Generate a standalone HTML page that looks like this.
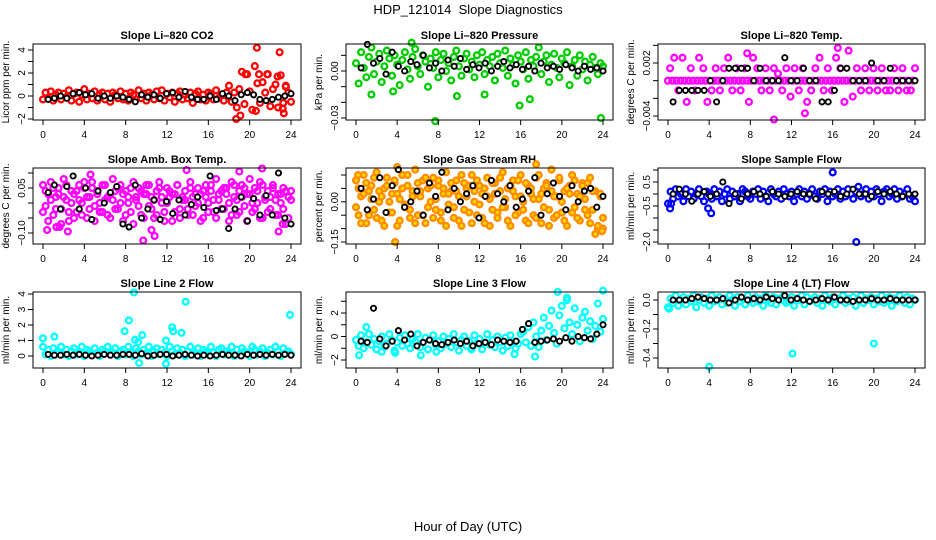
<!DOCTYPE html>
<html><head><meta charset="utf-8"><style>
body{margin:0;background:#fff}
svg{display:block;font-family:"Liberation Sans",Arial,sans-serif}
</style></head><body>
<svg id="chart" width="936" height="540" viewBox="0 0 936 540">
<text x="468" y="14" text-anchor="middle" font-size="13">HDP_121014&#160; Slope Diagnostics</text>
<text x="468" y="531" text-anchor="middle" font-size="13">Hour of Day (UTC)</text>
</svg>
<script>
const xTicks=[0,4,8,12,16,20,24];
const co2Color=[-0.3,0.3,-0.2,0.4,-0.4,0.1,0.3,-0.3,0.2,-0.1,0.5,-0.4,0.2,0.3,-0.5,0.1,0.6,-0.3,0.2,-0.2,0.4,-0.4,0.1,0.3,-0.3,0.2,-0.5,0.3,0.1,-0.2,0.4,-0.3,0.2,-0.4,0.3,0.1,-0.3,0.5,-0.2,0.2,-0.4,0.3,0.1,-0.3,0.4,-0.2,0.5,-0.4,0.2,-0.1,0.3,-0.5,0.2,0.4,-0.3,0.1,-0.2,0.3,-0.6,0.2,0.4,-0.3,0.1,-0.4,0.3,0.2,-0.3,0.5,-0.2,0.1,-0.4,0.3,0.9,-0.5,0.3,-1.0,0.6,2.1,-0.7,1.9,0.4,-1.2,2.6,1.1,-0.6,1.2,0.3,1.9,-0.9,0.6,1.0,-1.0,1.8,-0.6,0.8,0.3,-0.5];
const co2OutX=[20.7,22.9,18.7,19.1,20.6,20.9,23.3,23.2,19.6,21.7,22.7,23.5];
const co2OutY=[4.2,3.8,-2.0,-1.7,-1.3,1.9,-1.5,-1.1,1.9,1.9,1.7,0.9];
const co2Black=[-0.3,-0.2,0,-0.2,0.2,0.3,0.1,0.2,-0.2,0,-0.2,0,-0.1,-0.3,-0.5,0.1,-0.1,0.1,-0.2,0.2,0.3,-0.1,0.4,-0.1,-0.3,-0.3,0,-0.3,0.2,0,-0.4,0.1,0.3,0.1,-0.3,-0.4,-0.3,-0.1,0,0.2];
const presColor=[0.005,-0.008,0.012,0.002,-0.004,0.009,0.015,-0.002,0.006,0.011,-0.007,0.003,0.013,0.008,-0.003,0.010,0.004,-0.009,0.007,0.012,0.001,-0.005,0.009,0.014,0.003,-0.002,0.010,0.006,-0.010,0.008,0.002,0.012,-0.004,0.007,0.011,0.000,0.005,-0.006,0.009,0.013,0.003,-0.003,0.008,0.011,0.001,0.006,-0.004,0.010,0.004,0.012,-0.002,0.007,0.003,0.009,-0.006,0.011,0.005,0.002,0.013,-0.003,0.008,0.004,-0.008,0.010,0.006,0.001,0.012,-0.005,0.007,0.003,0.009,0.015,-0.002,0.006,0.010,-0.007,0.004,0.011,0.002,-0.004,0.008,0.005,0.012,-0.009,0.003,0.007,-0.003,0.010,0.001,0.006,-0.006,0.004,0.009,0.002,-0.002,0.005,0.003];
const presOutX=[1.5,7.7,9.8,12.5,15.9,16.9,23.8,5.4,3.6];
const presOutY=[-0.015,-0.032,-0.016,-0.015,-0.022,-0.018,-0.030,0.018,-0.013];
const presBlack=[0.002,0.017,0.005,0.008,-0.002,0.012,0.003,0.0,0.006,0.004,0.010,0.002,0.005,0.0,0.007,0.003,0.008,0.001,0.004,0.002,0.005,0.0,0.003,0.006,0.002,0.004,0.001,0.003,0.0,0.005,0.002,0.003,0.001,0.004,0.002,0.0,0.003,0.001,0.002,0.0];
const tempColor=[0,0.0014,0,0.0026,0,-0.0011,0,0.0026,0,-0.0024,0,0.0014,0,-0.0011,0,0.0026,0,0.0014,0,-0.0024,0,-0.0011,0,0.0014,0,-0.0011,0,0.0014,0,0.0026,0,-0.0011,0,0.0014,0,-0.0011,0,0.0014,0,-0.0024,0,0.0026,0,0.0014,0,-0.0011,0,0.0014,0,-0.0011,0,0.0014,0,0.0008,0,-0.0011,0,0.0014,0,-0.0018,0,0.0014,0,-0.0011,0,0.0014,0,-0.0024,0,-0.0011,0,0.0014,0,0.0026,0,-0.0011,0,0.0014,0,-0.0011,0,0.0026,0,0.0014,0,-0.0024,0,0.0034,0,-0.0018,0,0.0014,0,-0.0011,0,0.0014,0,-0.0011,0,0.0014,0,-0.0011,0,0.0014,0,-0.0011,0,-0.0011,0,0.0014,0,-0.0011,0,0.0014,0,-0.0011,0,-0.0011,0,0.0014];
const tempOutX=[10.3,13.3,16.5,7.7];
const tempOutY=[-0.0044,-0.0037,0.0037,0.0031];
const tempBlack=[-0.0024,-0.0011,-0.0011,-0.0011,-0.0011,-0.0011,0,-0.0024,0,0.0014,0.0014,0.0014,0.0014,0,0.0014,0,0,0,0.0026,0,0,0.0014,0,0,-0.0024,-0.0024,-0.0011,0.0014,0.0014,0,0,0,0.0020,0,0,0.0014,0,0,0,0];
const ambColorA=[0.06,-0.01,0.03,0.07,-0.04,0.02,0.05,-0.02,0.08,0.01,-0.06,0.04,0.03,-0.03,0.06,0.00,0.05,-0.05,0.02,0.07,-0.01,0.04,-0.03,0.06,0.01,-0.04,0.03,0.08,-0.02,0.05,0.00,-0.06,0.04,0.02,-0.03,0.07,0.01,0.05,-0.04,0.03,0.06,-0.01,0.02,-0.05,0.04,0.07,0.00,-0.03,0.05,0.02,-0.06,0.03,0.06,-0.02,0.01,0.04,-0.04,0.07,0.02,-0.01,0.05,0.03,-0.05,0.06,0.00,0.04,-0.03,0.08,0.01,-0.02,0.05,0.03,-0.06,0.07,0.02,-0.04,0.04,0.06,-0.01,0.03,0.08,-0.03,0.05,0.00,0.07,-0.05,0.02,0.04,-0.02,0.06,0.01,-0.04,0.03,0.05,-0.07,0.02,0.04];
const ambColorB=[-0.03,0.04,-0.06,0.01,0.05,-0.02,0.03,-0.07,0.02,0.06,-0.03,0.00,-0.05,0.04,0.01,-0.04,0.07,0.02,-0.02,0.05,-0.06,0.03,0.00,-0.03,0.06,0.02,-0.05,0.01,0.04,-0.02,0.06,0.03,-0.04,0.00,0.05,-0.07,0.02,-0.01,0.04,-0.05,0.03,0.06,-0.02,0.01,-0.04,0.05,0.02,-0.06,0.00,0.04,0.03,-0.03,0.06,-0.05,0.02,0.01,-0.02,0.05,-0.04,0.03,0.00,-0.06,0.04,0.02,-0.03,0.06,0.01,-0.05,0.03,0.04,-0.02,0.05,0.00,-0.04,0.06,0.01,-0.03,0.02,0.05,-0.06,0.03,0.00,-0.02,0.04,-0.05,0.06,0.01,-0.03,0.02,0.05,-0.04,0.03,0.00,-0.02,0.04,-0.05,0.01];
const ambOutX=[0.4,1.3,1.6,2.4,4.6,9.7,10.5,10.8,13.9,19.0,21.2,22.8,23.2];
const ambOutY=[-0.09,-0.08,-0.08,-0.095,0.095,-0.125,-0.09,-0.11,0.11,0.105,0.115,-0.095,-0.07];
const ambBlack=[0.035,0.06,-0.02,0.055,0.09,-0.02,0.05,-0.055,0.04,0,0.035,0.055,-0.07,-0.08,0.06,-0.05,-0.02,0.01,-0.055,0.005,-0.035,0.01,-0.04,-0.005,0.02,-0.015,0.09,-0.025,-0.02,-0.085,-0.02,0.02,-0.06,0.015,-0.04,0.025,-0.04,0.1,-0.05,-0.07];
const rhColorA=[0.08,-0.05,0.02,0.10,-0.08,0.04,0.06,-0.03,0.11,0.00,-0.07,0.05,0.09,-0.04,0.03,0.07,-0.09,0.01,0.10,-0.02,0.06,-0.06,0.04,0.12,-0.05,0.02,0.08,-0.08,0.05,0.00,0.09,-0.03,0.06,-0.07,0.03,0.11,-0.01,0.04,-0.06,0.08,0.02,-0.09,0.07,0.05,-0.04,0.10,0.00,-0.05,0.06,0.03,-0.08,0.09,0.01,-0.03,0.07,-0.06,0.04,0.11,-0.02,0.05,-0.09,0.08,0.02,-0.04,0.10,0.00,-0.07,0.06,0.03,-0.05,0.09,0.01,-0.08,0.05,0.07,-0.03,0.12,-0.06,0.02,0.08,-0.04,0.04,-0.09,0.06,0.10,-0.02,0.03,-0.07,0.07,0.01,-0.05,0.09,-0.03,0.04,-0.10,0.02,-0.06];
const rhColorB=[-0.02,0.05,-0.08,0.03,0.07,-0.05,0.01,0.09,-0.06,0.04,0.02,-0.09,0.06,0.00,-0.04,0.08,0.03,-0.07,0.05,-0.01,0.10,-0.03,0.02,-0.08,0.07,0.04,-0.05,0.09,-0.02,0.06,-0.06,0.01,0.08,-0.04,0.05,-0.09,0.03,0.07,-0.02,0.04,-0.07,0.10,-0.03,0.02,0.06,-0.08,0.04,0.08,-0.01,-0.06,0.05,0.02,-0.09,0.07,0.03,-0.04,0.09,-0.02,0.01,-0.07,0.06,0.04,-0.05,0.08,0.02,-0.03,0.07,-0.08,0.05,0.01,-0.06,0.10,0.03,-0.02,0.06,-0.09,0.04,0.02,-0.05,0.09,0.00,-0.07,0.05,0.03,-0.04,0.08,-0.06,0.02,0.06,-0.03,0.07,-0.08,0.04,-0.12,-0.09,0.03,-0.10];
const rhOutX=[3.8,4.0,17.5,23.9,0.2];
const rhOutY=[-0.15,0.13,0.14,-0.11,0.10];
const rhBlack=[0.05,-0.03,0.01,0.09,-0.04,0.06,0.12,-0.02,0.0,0.04,-0.05,0.07,0.02,0.11,-0.03,0.05,0.0,0.03,0.06,-0.06,0.02,0.08,0.03,0.0,0.06,-0.02,0.01,0.04,0.09,-0.05,0.03,0.07,0.02,-0.03,0.06,0.0,0.04,0.05,-0.02,0.02];
const sampColor=[-0.4,0.1,-0.2,0.2,-0.1,0.0,-0.3,0.2,-0.1,0.1,-0.2,0.0,0.2,-0.1,-0.3,0.1,0.0,-0.2,0.2,-0.1,0.1,-0.3,0.0,0.2,-0.2,0.1,-0.1,0.0,-0.3,0.2,0.1,-0.1,-0.2,0.1,0.0,0.2,-0.2,0.1,-0.1,-0.3,0.2,0.0,-0.1,0.1,-0.2,0.2,0.0,-0.1,0.1,-0.3,0.0,0.2,-0.1,0.1,-0.2,0.0,0.2,-0.1,-0.2,0.1,0.0,0.2,-0.3,0.1,-0.1,0.0,0.2,-0.2,0.1,-0.1,0.2,0.0,-0.2,0.1,0.3,-0.1,0.0,0.2,-0.2,0.1,-0.1,0.2,0.0,-0.3,0.1,0.2,-0.1,0.0,0.2,-0.2,0.1,-0.1,0.0,0.2,-0.2,-0.1,-0.3];
const sampOutX=[0.2,0.3,16.0,18.3,3.9,4.2];
const sampOutY=[-0.6,-0.4,0.9,-2.0,-0.6,-0.8];
const sampBlack=[0.0,0.2,0.0,-0.3,0.0,0.1,-0.1,0.0,0.5,-0.4,0.0,-0.2,0.0,0.1,0.0,-0.1,0.1,0.0,-0.1,0.0,0.1,0.0,0.0,-0.2,0.1,0.0,0.1,-0.1,0.0,0.2,0.0,0.0,-0.1,0.1,0.0,0.1,0.0,-0.1,0.0,0.0];
const l2Color=[0.6,0.1,0.4,0.0,0.5,0.2,0.3,0.6,0.1,0.4,0.0,0.3,0.5,0.1,0.2,0.6,0.0,0.4,0.3,0.1,0.5,0.2,0.0,0.4,0.3,0.6,0.1,0.2,0.5,0.0,0.3,0.4,0.1,0.6,0.2,0.0,0.5,0.3,0.1,0.4,0.2,0.6,0.0,0.3,0.5,0.1,0.4,0.2,0.0,0.6,0.3,0.1,0.5,0.2,0.4,0.0,0.3,0.6,0.1,0.2,0.5,0.0,0.4,0.3,0.1,0.6,0.2,0.0,0.4,0.5,0.1,0.3,0.2,0.6,0.0,0.4,0.1,0.5,0.3,0.2,0.0,0.6,0.4,0.1,0.3,0.5,0.0,0.2,0.4,0.1,0.6,0.3,0.0,0.5,0.2,0.3,0.1];
const l2OutX=[0,1.1,7.9,8.3,8.8,8.9,9.2,9.6,11.9,12.5,12.6,13.4,13.8,23.9,9.3,11.9];
const l2OutY=[1.15,1.25,1.6,2.3,4.1,1.05,0.9,1.35,1.0,1.85,1.6,1.5,3.5,2.65,-0.45,-0.5];
const l2Black=[0.1,0.05,0.05,0.1,0.05,0.1,0.05,0.0,0.05,0.1,0.05,0.05,0.1,0.1,0.05,0.15,0.0,0.05,0.1,0.1,0.0,0.05,0.1,0.05,0.0,0.05,0.0,0.05,0.1,0.05,0.05,0.0,0.1,0.05,0.1,0.05,0.1,0.05,0.1,0.05];
const l3Color=[-0.3,-0.8,0.1,-1.0,-0.5,0.2,-0.7,-0.2,-1.1,-0.4,0.0,-0.9,-0.6,0.2,-0.3,-1.2,-0.5,-0.1,-0.8,0.1,-0.6,-1.0,-0.2,-0.4,0.2,-0.9,-0.5,-0.1,-1.1,-0.3,0.1,-0.7,-0.4,-1.0,0.0,-0.6,-0.2,-0.9,0.2,-0.5,-1.2,-0.3,0.0,-0.8,-0.4,-1.0,0.1,-0.6,-0.2,-1.1,-0.5,0.2,-0.7,-0.3,-0.9,0.0,-0.5,-1.2,-0.1,-0.8,0.1,-0.4,-1.0,-0.6,0.2,0.4,-0.5,0.8,-0.8,1.2,0.0,-0.9,0.5,1.6,-0.3,0.9,2.2,0.3,-0.6,1.8,2.6,0.7,3.1,1.2,0.2,2.4,1.0,-0.4,1.6,2.1,0.5,1.3,-0.2,0.9,2.8,0.4,1.5];
const l3OutX=[0.3,0.6,1.0,2.5,3.8,6.3,7.8,11.2,15.4,17.4,19.6,20.5,24.0];
const l3OutY=[-1.6,-0.5,0.8,-1.3,-1.4,-1.6,-1.3,-1.1,-1.5,-1.7,3.8,3.3,3.9];
const l3Black=[-0.4,-0.5,2.4,-0.2,-0.8,-0.4,0.5,-0.3,0.2,-0.8,-0.5,-0.3,-0.6,-0.7,-0.5,-0.3,-0.6,-0.4,-0.8,-0.6,-0.5,-0.7,-0.3,-0.4,-0.5,-0.4,0.6,1.1,-0.5,-0.4,-0.3,-0.2,-0.4,-0.1,-0.4,0.0,-0.1,-0.2,0.2,1.0];
const l4Color=[-0.05,0.01,-0.02,0.03,-0.04,0.0,0.02,-0.03,0.01,-0.01,0.03,-0.05,0.0,0.02,-0.02,0.01,-0.04,0.03,-0.01,0.0,0.02,-0.03,0.01,-0.02,0.03,0.0,-0.04,0.02,-0.01,0.01,-0.03,0.03,0.0,-0.02,0.02,-0.01,0.01,-0.04,0.03,0.0,-0.02,0.02,-0.03,0.01,0.0,0.03,-0.02,-0.01,0.02,-0.04,0.01,0.0,0.03,-0.03,0.02,-0.01,0.0,0.02,-0.02,0.01,-0.04,0.03,0.0,-0.01,0.02,-0.03,0.01,0.0,0.03,-0.02,0.01,-0.01,0.02,-0.04,0.0,0.03,-0.02,0.01,0.0,0.02,-0.03,0.01,-0.01,0.03,-0.02,0.0,0.02,-0.04,0.01,-0.01,0.03,0.0,-0.02,0.02,-0.03,0.01,0.0];
const l4OutX=[4.0,12.1,20.0,0.1];
const l4OutY=[-0.46,-0.37,-0.30,-0.06];
const l4Black=[0.0,0.0,0.0,0.01,0.02,0.01,0.0,0.0,0.01,-0.02,0.0,0.02,0.0,0.01,0.0,0.02,0.01,0.0,0.03,0.0,0.01,0.0,-0.01,0.0,0.01,0.0,0.02,0.0,0.0,-0.01,0.0,0.0,0.01,0.0,0.0,0.01,0.0,0.0,0.0,0.0];

const NS='http://www.w3.org/2000/svg';
const svg=document.getElementById('chart');
function mk(tag,attrs,parent){const e=document.createElementNS(NS,tag);for(const k in attrs)e.setAttribute(k,attrs[k]);(parent||svg).appendChild(e);return e;}
const col0=[43,356,668],col24=[291,603,915],rowTop=[44,168,292],rowBot=[120,244,368];

function panel(slug,ci,ri,title,ylab,ref,ticks,labels,colorSets,outX,outY,black,stroke,fill){
  const g=mk('g',{});
  
  
  const x0=col0[ci],x1=col24[ci],top=rowTop[ri],bot=rowBot[ri];
  const xs=h=>x0+(x1-x0)*h/24;
  const ys=v=>ref[1]+(v-ref[0])*(ref[3]-ref[1])/(ref[2]-ref[0]);
  const L=x0-10,R=x1+10;
  const t=mk('text',{x:(L+R)/2,y:top-5,'text-anchor':'middle','font-size':11,'font-weight':'bold'},g);t.textContent=title;
  
  
  const yl=mk('text',{x:0,y:0,'text-anchor':'middle','font-size':10,transform:`translate(${L-24},${(top+bot)/2}) rotate(-90)`},g);yl.textContent=ylab;
  
  
  const clip=mk('g',{},g);
  const drawPt=(h,v,s,f,r,w)=>{const c=mk('circle',{cx:xs(h).toFixed(1),cy:ys(v).toFixed(1),r:r,fill:f,stroke:s,'stroke-width':w},clip);
    
    };
  colorSets.forEach(arr=>arr.forEach((v,i)=>drawPt(i*24/(arr.length-1),v,stroke,fill,2.9,2.3)));
  outX.forEach((h,i)=>drawPt(h,outY[i],stroke,fill,2.9,2.3));
  black.forEach((v,i)=>drawPt(0.5+i*23.5/(black.length-1),v,'#000','#fff',2.6,1.9));
  const box=mk('rect',{x:L,y:top,width:R-L,height:bot-top,fill:'none',stroke:'#000','stroke-width':1},g);
  
  
  xTicks.forEach(h=>{const X=xs(h);mk('line',{x1:X,x2:X,y1:bot,y2:bot+5,stroke:'#000'},g);
    const tl=mk('text',{x:X,y:bot+18,'text-anchor':'middle','font-size':10},g);tl.textContent=h;
    
    });
  ticks.forEach((v,i)=>{const Y=ys(v);mk('line',{x1:L-5,x2:L,y1:Y,y2:Y,stroke:'#000'},g);
    if(labels[i]){const tl=mk('text',{x:0,y:0,'text-anchor':'middle','font-size':10,transform:`translate(${L-8},${Y}) rotate(-90)`},g);tl.textContent=labels[i];
      
      }});
}
panel('co2',0,0,'Slope Li\u2013820 CO2','Licor ppm per min.',[4,50,-2,119],[-2,-1,0,1,2,3,4],['\u22122','','0','','2','','4'],[co2Color],co2OutX,co2OutY,co2Black,'#ff0000','none');
panel('pressure',1,0,'Slope Li\u2013820 Pressure','kPa per min.',[0,71,-0.03,118],[0.01,0,-0.01,-0.02,-0.03],['','0.00','','','\u22120.03'],[presColor],presOutX,presOutY,presBlack,'#00cc00','none');
panel('licor-temp',2,0,'Slope Li\u2013820 Temp.','degrees C per min.',[0.002,63,-0.004,116],[0.004,0.002,0,-0.002,-0.004],['','0.002','','','\u22120.004'],[tempColor],tempOutX,tempOutY,tempBlack,'#ff00ff','none');
panel('amb-temp',0,1,'Slope Amb. Box Temp.','degrees C per min.',[0.05,188,-0.10,233],[0.1,0.05,0,-0.05,-0.1],['','0.05','','','\u22120.10'],[ambColorA,ambColorB],ambOutX,ambOutY,ambBlack,'#ff00ff','none');
panel('rh',1,1,'Slope Gas Stream RH','percent per min.',[0.1,175,-0.15,242],[0.1,0.05,0,-0.05,-0.1,-0.15],['','','0.00','','','\u22120.15'],[rhColorA,rhColorB],rhOutX,rhOutY,rhBlack,'#ff8c00','#ffd700');
panel('sample-flow',2,1,'Slope Sample Flow','ml/min per min.',[0.5,182,-2,242],[1,0.5,0,-0.5,-1,-1.5,-2],['','0.5','','\u22120.5','','','\u22122.0'],[sampColor],sampOutX,sampOutY,sampBlack,'#0000ff','none');
panel('line2',0,2,'Slope Line 2 Flow','ml/min per min.',[4,294,0,356],[4,3,2,1,0],['4','3','2','1','0'],[l2Color],l2OutX,l2OutY,l2Black,'#00ffff','none');
panel('line3',1,2,'Slope Line 3 Flow','ml/min per min.',[2,313,-2,360],[3,2,1,0,-1,-2],['','2','','0','','\u22122'],[l3Color],l3OutX,l3OutY,l3Black,'#00ffff','none');
panel('line4',2,2,'Slope Line 4 (LT) Flow','ml/min per min.',[0,300,-0.4,358],[0,-0.1,-0.2,-0.3,-0.4],['0.0','','\u22120.2','','\u22120.4'],[l4Color],l4OutX,l4OutY,l4Black,'#00ffff','none');
</script>
</body></html>
